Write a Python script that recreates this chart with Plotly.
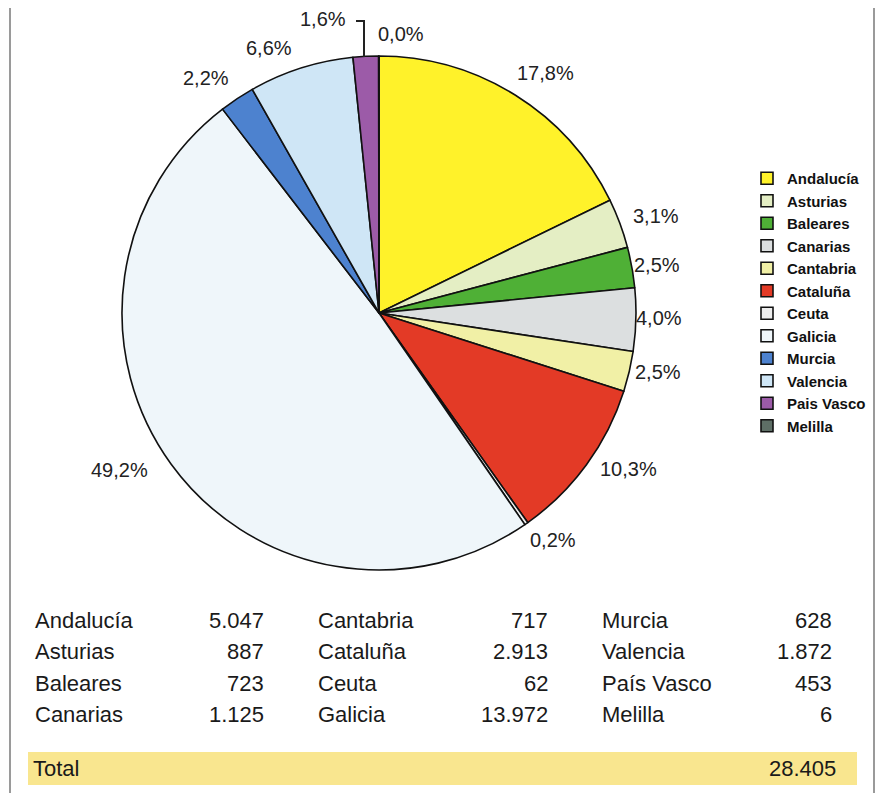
import math
import plotly.graph_objects as go

W, H = 883, 801
PAGE_MARGIN = 8  # browser body margin around the plot div
FW, FH = W - PAGE_MARGIN, H - 2 * PAGE_MARGIN

regions = ["Andalucía", "Asturias", "Baleares", "Canarias", "Cantabria", "Cataluña",
           "Ceuta", "Galicia", "Murcia", "Valencia", "País Vasco", "Melilla"]
legend_names = ["Andalucía", "Asturias", "Baleares", "Canarias", "Cantabria", "Cataluña",
                "Ceuta", "Galicia", "Murcia", "Valencia", "Pais Vasco", "Melilla"]
values = [5047, 887, 723, 1125, 717, 2913, 62, 13972, 628, 1872, 453, 6]
pct_labels = ["17,8%", "3,1%", "2,5%", "4,0%", "2,5%", "10,3%",
              "0,2%", "49,2%", "2,2%", "6,6%", "1,6%", "0,0%"]
colors = ["#FFF22A", "#E4EEC4", "#4FB036", "#DCDFE0", "#F1F0A6", "#E33A26",
          "#EEEEEE", "#EFF6FA", "#4D82CF", "#CFE6F6", "#9C5BA8", "#5E6F66"]
table_values = ["5.047", "887", "723", "1.125", "717", "2.913", "62", "13.972",
                "628", "1.872", "453", "6"]
total_label = "28.405"

# pie geometry (page pixels)
cx, cy, R = 379, 313, 257


def px(x):
    return (x - PAGE_MARGIN) / FW


def py(y):
    return 1 - (y - PAGE_MARGIN) / FH


fig = go.Figure()
fig.add_trace(go.Pie(
    labels=legend_names, values=values, sort=False, direction="clockwise",
    rotation=0, marker=dict(colors=colors, line=dict(color="#111111", width=1.6)),
    textinfo="none", hoverinfo="label+value+percent",
    domain=dict(x=[px(cx - R), px(cx + R)], y=[py(cy + R), py(cy - R)]),
))

lfont = dict(family="Liberation Sans, Arial", size=20, color="#222222")
# outside percentage labels, placed along each slice's mid angle
total = sum(values)
label_r = [292, 292, 282, 280, 285, 293, 286, 300, 292, 287, 0, 0]
offsets = [(12, 8), (3, 5), (0, 2), (0, -2), (1, -6), (13, -17), (10, -7), (-17, -20),
           (-12, 8), (-23, 8), (0, 0), (0, 0)]
annotations = []
cum = 0
for i, v in enumerate(values):
    mid = (cum + v / 2) / total * 2 * math.pi
    cum += v
    if label_r[i] == 0:
        continue
    x = cx + label_r[i] * math.sin(mid) + offsets[i][0]
    y = cy - label_r[i] * math.cos(mid) + offsets[i][1]
    annotations.append(dict(x=px(x), y=py(y), xref="paper", yref="paper",
                            xanchor="center", yanchor="middle",
                            text=pct_labels[i], showarrow=False, font=lfont))
# small top slices with leader line
annotations.append(dict(x=px(323), y=py(19), xref="paper", yref="paper", text=pct_labels[10],
                        xanchor="center", yanchor="middle", showarrow=False, font=lfont))
annotations.append(dict(x=px(401), y=py(34), xref="paper", yref="paper", text=pct_labels[11],
                        xanchor="center", yanchor="middle", showarrow=False, font=lfont))

shapes = [
    dict(type="path", xref="paper", yref="paper",
         path=f"M {px(356)} {py(21)} L {px(364)} {py(21)} L {px(364)} {py(57)}",
         line=dict(color="#222222", width=2)),
    dict(type="line", xref="paper", yref="paper", x0=px(10), x1=px(10), y0=-0.02, y1=1.02,
         line=dict(color="#9A9A9A", width=2)),
    dict(type="line", xref="paper", yref="paper", x0=px(874), x1=px(874), y0=-0.02, y1=1.02,
         line=dict(color="#9A9A9A", width=2)),
    dict(type="rect", xref="paper", yref="paper", x0=px(28), x1=px(857), y0=py(785), y1=py(752),
         fillcolor="#F9E68F", line=dict(width=0), layer="below"),
]

# table below the pie
tfont = dict(family="Liberation Sans, Arial", size=22, color="#1A1A1A")
col_lx = [33, 316, 600]
col_rx = [266, 550, 834]
row_y = [620, 651, 683, 714]
for i, name in enumerate(regions):
    c, r = divmod(i, 4)
    annotations.append(dict(x=px(col_lx[c]), y=py(row_y[r]), xref="paper", yref="paper",
                            text=name, showarrow=False, xanchor="left", yanchor="middle",
                            font=tfont))
    annotations.append(dict(x=px(col_rx[c]), y=py(row_y[r]), xref="paper", yref="paper",
                            text=table_values[i], showarrow=False, xanchor="right",
                            yanchor="middle", font=tfont))
annotations.append(dict(x=px(31), y=py(768), xref="paper", yref="paper", text="Total",
                        showarrow=False, xanchor="left", yanchor="middle", font=tfont))
annotations.append(dict(x=px(838), y=py(768), xref="paper", yref="paper", text=total_label,
                        showarrow=False, xanchor="right", yanchor="middle", font=tfont))

fig.update_layout(
    width=FW, height=FH, margin=dict(l=0, r=0, t=0, b=0),
    paper_bgcolor="white", plot_bgcolor="white",
    showlegend=True,
    legend=dict(x=px(747), y=py(162), xanchor="left", yanchor="top",
                font=dict(family="Liberation Sans, Arial", size=15, color="#111111",
                          weight="bold"),
                bgcolor="rgba(0,0,0,0)", traceorder="normal"),
    annotations=annotations, shapes=shapes,
)

fig.write_html("out.html")
